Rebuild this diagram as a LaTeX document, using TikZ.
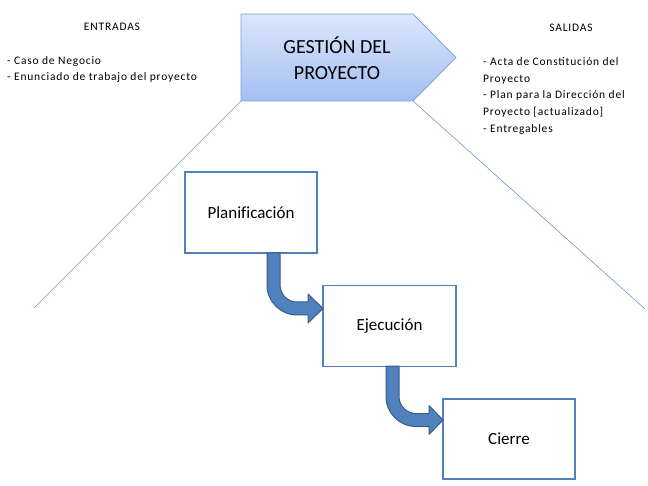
\documentclass[tikz,border=0pt]{standalone}
\usepackage{fontspec}
\setmainfont{Carlito}[Ligatures=CommonOff]
\newfontfamily\spacedfam[LetterSpace=7]{Carlito}
\begin{document}
\begin{tikzpicture}[x=1pt,y=-1pt,
  stepbox/.style={draw=boxblue,line width=1.6pt,fill=white,inner sep=0pt,font=\fontsize{17}{20}\selectfont},
  bentarrow/.style={fill=arrfill,draw=arrline,line width=1pt,line join=round},
  small/.style={font=\spacedfam\fontsize{11.5}{16.6}\selectfont,align=left,inner sep=0pt},
  heading/.style={font=\spacedfam\fontsize{11.5}{12}\selectfont,inner sep=0pt},
]
\definecolor{boxblue}{HTML}{4F81BD}
\definecolor{arrfill}{HTML}{4F81BD}
\definecolor{arrline}{HTML}{385D8A}
\definecolor{pentline}{HTML}{7BA0D8}
\definecolor{pentTop}{HTML}{DCE6FB}
\definecolor{pentBot}{HTML}{A3BFF2}
\definecolor{thinline}{HTML}{6E96D0}
\useasboundingbox (0,0) rectangle (648,486);
% pentagon
\coordinate (pTL) at (241,14);
\coordinate (pTR) at (413,14);
\coordinate (pTip) at (456,57.5);
\coordinate (pBR) at (413,101);
\coordinate (pBL) at (241,101);
\coordinate (lEnd) at (34,308);
\coordinate (rEnd) at (645,309);
\draw[thinline,line width=0.6pt] (pBL) -- (lEnd);
\draw[thinline,line width=0.6pt] (pBR) -- (rEnd);
\shade[top color=pentTop,bottom color=pentBot] (pTL) -- (pTR) -- (pTip) -- (pBR) -- (pBL) -- cycle;
\draw[pentline,line width=0.7pt] (pTL) -- (pTR) -- (pTip) -- (pBR) -- (pBL) -- cycle;
\node[font=\fontsize{20}{26}\selectfont,align=center,inner sep=0pt] (gest) at (337,58.5) {GESTIÓN DEL\\PROYECTO};
% texts
\node[heading] (ent) at (112,27) {ENTRADAS};
\node[small,anchor=north west] (entl) at (7,56) {- Caso de Negocio\\- Enunciado de trabajo del proyecto};
\node[heading] (sal) at (571,27.5) {SALIDAS};
\node[small,anchor=north west] (sall) at (483,57.5) {- Acta de Constitución del\\Proyecto\\- Plan para la Dirección del\\Proyecto [actualizado]\\- Entregables};
% boxes
\node[stepbox,minimum width=132pt,minimum height=81pt] (plan) at (251,212.5) {Planificación};
\node[stepbox,minimum width=133pt,minimum height=81pt] (ejec) at (389.5,326) {Ejecución};
\node[stepbox,minimum width=132pt,minimum height=80pt] (cier) at (509,439) {Cierre};
% bent arrows
\path[bentarrow] (267,253) -- (267,285) arc[start angle=180,end angle=90,radius=30] -- (308,315) -- (308,323) -- (323,308.5) -- (308,294) -- (308,302) -- (297,302) arc[start angle=90,end angle=180,radius=17] -- (280,253) -- cycle;
\path[bentarrow] (386,366) -- (386,396.5) arc[start angle=180,end angle=90,radius=30] -- (429,426.5) -- (429,434.5) -- (443,420) -- (429,405.5) -- (429,413.5) -- (416,413.5) arc[start angle=90,end angle=180,radius=17] -- (399,366) -- cycle;
\end{tikzpicture}
\end{document}
